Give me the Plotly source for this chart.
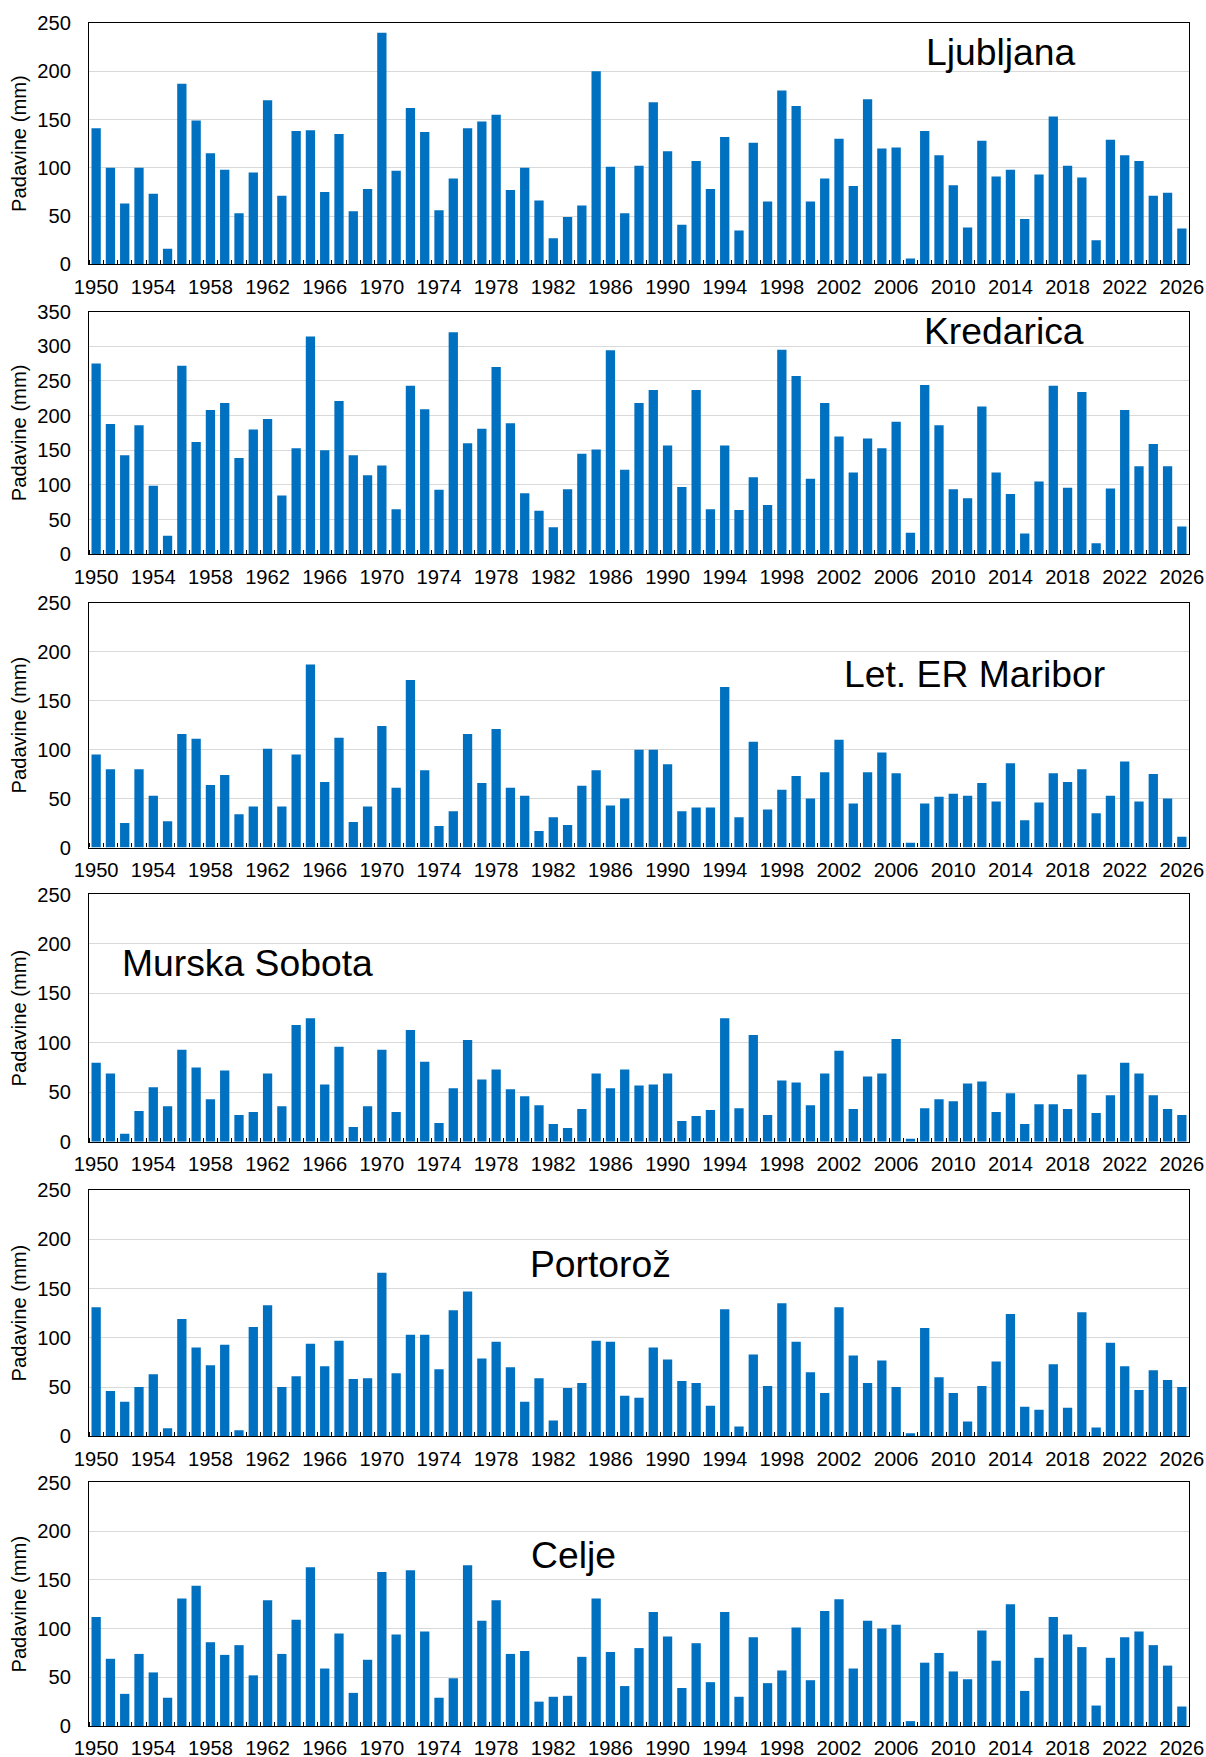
import plotly.graph_objects as go
from plotly.subplots import make_subplots

years = list(range(1950, 2027))

ljubljana = [141, 100, 63, 100, 73, 16, 187, 149, 115, 98, 53, 95, 170, 71, 138, 139, 75, 135, 55, 78,
             240, 97, 162, 137, 56, 89, 141, 148, 155, 77, 100, 66, 27, 49, 61, 200, 101, 53, 102, 168,
             117, 41, 107, 78, 132, 35, 126, 65, 180, 164, 65, 89, 130, 81, 171, 120, 121, 6, 138, 113,
             82, 38, 128, 91, 98, 47, 93, 153, 102, 90, 25, 129, 113, 107, 71, 74, 37]

kredarica = [275, 188, 143, 186, 99, 27, 272, 162, 208, 218, 139, 180, 195, 85, 153, 314, 150, 221, 143, 114,
             128, 65, 243, 209, 93, 320, 160, 181, 270, 189, 88, 63, 39, 94, 145, 151, 294, 122, 218, 237,
             157, 97, 237, 65, 157, 64, 111, 71, 295, 257, 109, 218, 170, 118, 167, 153, 191, 31, 244, 186,
             94, 81, 213, 118, 87, 30, 105, 243, 96, 234, 16, 95, 208, 127, 159, 127, 40]

maribor = [95, 80, 25, 80, 53, 27, 116, 111, 64, 74, 34, 42, 101, 42, 95, 187, 67, 112, 26, 42,
           124, 61, 171, 79, 22, 37, 116, 66, 121, 61, 53, 17, 31, 23, 63, 79, 43, 50, 100, 100,
           85, 37, 41, 41, 164, 31, 108, 39, 59, 73, 50, 77, 110, 45, 77, 97, 76, 5, 45, 52,
           55, 53, 66, 47, 86, 28, 46, 76, 67, 80, 35, 53, 88, 47, 75, 50, 11]

murska_sobota = [80, 69, 8, 31, 55, 36, 93, 75, 43, 72, 27, 30, 69, 36, 118, 125, 58, 96, 15, 36,
                 93, 30, 113, 81, 19, 54, 103, 63, 73, 53, 46, 37, 18, 14, 33, 69, 54, 73, 57, 58,
                 69, 21, 26, 32, 125, 34, 108, 27, 62, 60, 37, 69, 92, 33, 66, 69, 104, 3, 34, 43,
                 41, 59, 61, 30, 49, 18, 38, 38, 33, 68, 29, 47, 80, 69, 47, 33, 27]

portoroz = [131, 46, 35, 50, 63, 8, 119, 90, 72, 93, 6, 111, 133, 50, 61, 94, 71, 97, 58, 59,
            166, 64, 103, 103, 68, 128, 147, 79, 96, 70, 35, 59, 16, 49, 54, 97, 96, 41, 39, 90,
            78, 56, 54, 31, 129, 10, 83, 51, 135, 96, 65, 44, 131, 82, 54, 77, 50, 3, 110, 60,
            44, 15, 51, 76, 124, 30, 27, 73, 29, 126, 9, 95, 71, 47, 67, 57, 50]

celje = [112, 69, 33, 74, 55, 29, 131, 144, 86, 73, 83, 52, 129, 74, 109, 163, 59, 95, 34, 68,
         158, 94, 160, 97, 29, 49, 165, 108, 129, 74, 77, 25, 30, 31, 71, 131, 76, 41, 80, 117,
         92, 39, 85, 45, 117, 30, 91, 44, 57, 101, 47, 118, 130, 59, 108, 100, 104, 5, 65, 75,
         56, 48, 98, 67, 125, 36, 70, 112, 94, 81, 21, 70, 91, 97, 83, 62, 20]

stations = ["Ljubljana", "Kredarica", "Let. ER Maribor", "Murska Sobota", "Portorož", "Celje"]
series = [ljubljana, kredarica, maribor, murska_sobota, portoroz, celje]
y_max = [250, 350, 250, 250, 250, 250]

# label placement inside each panel (axis-domain fractions)
label_pos = [(0.829, 0.88), (0.832, 0.92), (0.805, 0.707), (0.144, 0.723), (0.465, 0.70), (0.44, 0.703)]

# the capture comes out ~0.8% smaller than drawn, so lay out a touch larger
K = 1.008
W, H = round(1206 * K), round(1757 * K)
M_T, M_B, M_L, M_R = 20 * K, 31 * K, 88 * K, 18 * K
panels_px = [(20, 261.7), (309, 552.3), (600.7, 846), (893, 1140.7), (1189, 1435.7), (1482, 1726)]
plot_h = H - M_T - M_B

BLUE = "#0070C0"
FONT = "Liberation Sans, Arial, sans-serif"
FS = 20 * K

fig = make_subplots(rows=6, cols=1)

for i, (name, vals) in enumerate(zip(stations, series), start=1):
    fig.add_trace(
        go.Bar(x=years, y=vals, marker=dict(color=BLUE, line=dict(width=0)), name=name),
        row=i, col=1,
    )
    top, bot = panels_px[i - 1]
    dom = [max(0.0, (H - M_B - bot * K) / plot_h), min(1.0, (H - M_B - top * K) / plot_h)]
    fig.update_yaxes(
        domain=dom,
        range=[0, y_max[i - 1]],
        dtick=50,
        showgrid=True,
        gridcolor="#D9D9D9",
        gridwidth=1,
        zeroline=False,
        showline=True,
        mirror=True,
        linecolor="#000000",
        linewidth=1.2,
        ticks="",
        ticklabelstandoff=13,
        tickfont=dict(family=FONT, size=FS, color="#000000"),
        title=dict(text="Padavine (mm)", font=dict(family=FONT, size=FS, color="#000000"), standoff=5),
        row=i, col=1,
    )
    fig.update_xaxes(
        range=[1949.5, 2026.5],
        tick0=1950,
        dtick=4,
        ticks="",
        showgrid=False,
        zeroline=False,
        showline=True,
        mirror=True,
        linecolor="#000000",
        linewidth=1.2,
        ticklabelstandoff=4,
        tickfont=dict(family=FONT, size=FS, color="#000000"),
        minor=dict(tick0=1949.5, dtick=1, ticks="inside", ticklen=4, tickcolor="#000000",
                   tickwidth=1, showgrid=False),
        row=i, col=1,
    )
    xref = "x domain" if i == 1 else f"x{i} domain"
    yref = "y domain" if i == 1 else f"y{i} domain"
    lx, ly = label_pos[i - 1]
    fig.add_annotation(
        text=name, xref=xref, yref=yref, x=lx, y=ly,
        xanchor="center", yanchor="middle", showarrow=False,
        font=dict(family=FONT, size=37 * K, color="#000000"),
    )

fig.update_layout(
    width=W,
    height=H,
    margin=dict(l=M_L, r=M_R, t=M_T, b=M_B),
    paper_bgcolor="white",
    plot_bgcolor="white",
    showlegend=False,
    bargap=0.35,
    font=dict(family=FONT, color="#000000"),
)

# page sits at the origin with no scrollbars; no modebar overlay
fig.write_html(
    "out.html",
    config={"displayModeBar": False},
    post_script="document.body.style.margin='0'; document.body.style.overflow='hidden';",
)
